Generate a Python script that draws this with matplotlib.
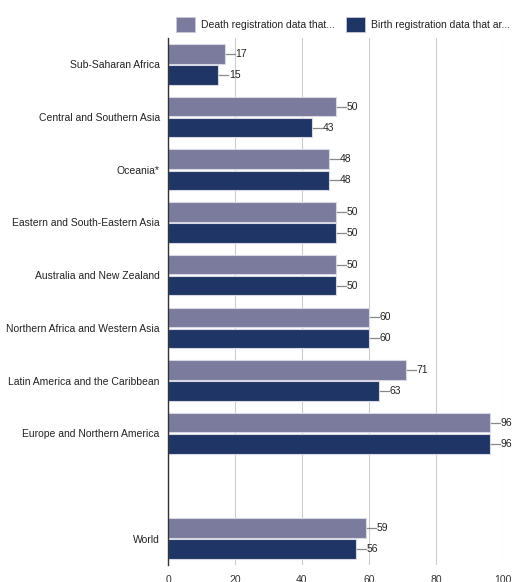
import matplotlib
matplotlib.use("Agg")
import matplotlib.pyplot as plt
from matplotlib.patches import Rectangle
import numpy as np

plt.rcParams['font.family'] = ['Liberation Sans', 'DejaVu Sans']

categories = ["Sub-Saharan Africa", "Central and Southern Asia", "Oceania*",
              "Eastern and South-Eastern Asia", "Australia and New Zealand",
              "Northern Africa and Western Asia", "Latin America and the Caribbean",
              "Europe and Northern America", "", "World"]
death = [17, 50, 48, 50, 50, 60, 71, 96, None, 59]
birth = [15, 43, 48, 50, 50, 60, 63, 96, None, 56]
series_names = ["Death registration data that...", "Birth registration data that ar..."]
xticks = [0, 20, 40, 60, 80, 100]

c_death = "#7a7b9d"
c_birth = "#1f3565"

W, H = 513, 582
fig = plt.figure(figsize=(W/100, H/100), dpi=100)
ax = fig.add_axes([168/W, (H-565)/H, (503-168)/W, (565-38)/H])

n = len(categories)
y = np.arange(n)
bh = 0.37
for i in range(n):
    if death[i] is None:
        continue
    for val, off, col in ((death[i], -0.2, c_death), (birth[i], 0.2, c_birth)):
        ax.barh(y[i] + off, val, height=bh, color=col, edgecolor="#d8d8e4", linewidth=0.8, zorder=3)
        ax.plot([val + 0.3, val + 3.0], [y[i] + off]*2, color="#888888", lw=0.9, zorder=3)
        ax.text(val + 3.2, y[i] + off, str(val), va="center", ha="left", fontsize=7.5,
                color="#222222", zorder=4, clip_on=False)

ax.set_ylim(n - 0.5, -0.5)
ax.set_xlim(0, 100)
ax.set_yticks(y)
ax.set_yticklabels(categories, fontsize=7.5, color="#222222")
ax.set_xticks(xticks)
ax.set_xticklabels([str(t) for t in xticks], fontsize=7.5, color="#333333")
ax.tick_params(axis='both', length=0, pad=6)
ax.tick_params(axis='x', pad=7)
ax.grid(axis='x', color="#cccccc", lw=0.8, zorder=0)
for s in ("top", "right", "bottom"):
    ax.spines[s].set_visible(False)
ax.spines["left"].set_color("#333333")
ax.spines["left"].set_linewidth(1.0)
ax.spines["left"].set_zorder(5)

# legend
for x0, col, name in ((176, c_death, series_names[0]), (346, c_birth, series_names[1])):
    fig.patches.append(Rectangle((x0/W, (H-32)/H), 19/W, 15/H, transform=fig.transFigure,
                                 facecolor=col, edgecolor="#c8c8d8", lw=0.6))
    fig.text((x0+25)/W, (H-25)/H, name, fontsize=7.5, va="center", ha="left", color="#222222")

fig.savefig("out.png", dpi=100)
